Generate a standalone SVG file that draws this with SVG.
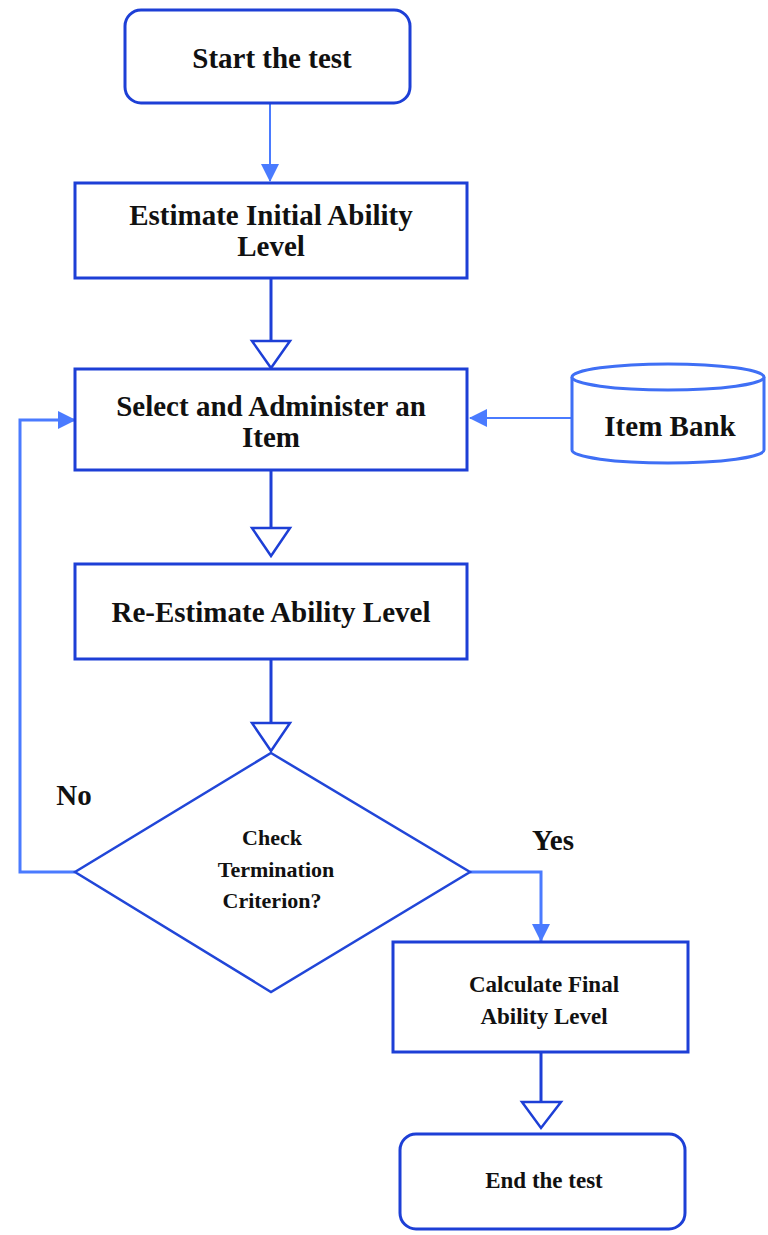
<svg xmlns="http://www.w3.org/2000/svg" width="768" height="1235" viewBox="0 0 768 1235">
<style>
.box{fill:#fff;stroke:#1d3fd6;stroke-width:3}
.dia{fill:#fff;stroke:#2146d8;stroke-width:2.5}
.t{font-family:"Liberation Serif","Times New Roman",serif;font-weight:bold;fill:#111;text-anchor:middle}
.big{font-size:29px}
.sm{font-size:22px}
.md{font-size:23px}
.dark{fill:none;stroke:#1d3fd6;stroke-width:3}
.light{fill:none;stroke:#4a7bff;marker-end:url(#fa)}
.hollow{fill:#fff;stroke:#1d3fd6;stroke-width:2.5;stroke-linejoin:miter}
</style>
<defs>
<marker id="fa" viewBox="0 0 18 18" refX="17" refY="9" markerWidth="18" markerHeight="18" markerUnits="userSpaceOnUse" orient="auto">
<path d="M0,0 L18,9 L0,18 Z" fill="#4a7bff"/>
</marker>
</defs>
<rect width="768" height="1235" fill="#fff"/>
<g id="connectors">
<line class="light" x1="270" y1="104" x2="270" y2="181" stroke-width="2"/>
<line class="dark" x1="271" y1="278" x2="271" y2="341"/>
<path class="hollow" d="M252,341 L290,341 L271,368 Z"/>
<line class="dark" x1="271" y1="470" x2="271" y2="528"/>
<path class="hollow" d="M252,528 L290,528 L271,556 Z"/>
<line class="dark" x1="271" y1="660" x2="271" y2="723"/>
<path class="hollow" d="M252,723 L290,723 L271,751 Z"/>
<line class="light" x1="571" y1="418" x2="470" y2="418" stroke-width="2"/>
<path class="light" d="M75,872 L20,872 L20,420 L75,420" stroke-width="3"/>
<path class="light" d="M470,872 L541,872 L541,941" stroke-width="3"/>
<line class="dark" x1="541" y1="1052" x2="541" y2="1102"/>
<path class="hollow" d="M522,1102 L561,1102 L541,1128 Z"/>
</g>
<g id="start">
<rect class="box" x="125" y="10" width="285" height="93" rx="16"/>
<text class="t big" x="272" y="68">Start the test</text>
</g>
<g id="estimate">
<rect class="box" x="75" y="183" width="392" height="95"/>
<text class="t big" x="271" y="225">Estimate Initial Ability</text>
<text class="t big" x="271" y="256">Level</text>
</g>
<g id="select">
<rect class="box" x="75" y="369" width="392" height="101"/>
<text class="t big" x="271" y="416">Select and Administer an</text>
<text class="t big" x="271" y="447">Item</text>
</g>
<g id="itembank">
<path d="M572,377 L572,450 A96,13 0 0 0 764,450 L764,377" fill="#fff" stroke="#3f6ff5" stroke-width="3"/>
<ellipse cx="668" cy="377" rx="96" ry="13" fill="#fff" stroke="#3f6ff5" stroke-width="3"/>
<text class="t big" x="670" y="436">Item Bank</text>
</g>
<g id="reestimate">
<rect class="box" x="75" y="564" width="392" height="95"/>
<text class="t big" x="271" y="622">Re-Estimate Ability Level</text>
</g>
<g id="decision">
<path class="dia" d="M271,753 L470,872 L271,992 L75,872 Z"/>
<text class="t sm" x="272" y="845">Check</text>
<text class="t sm" x="276" y="877">Termination</text>
<text class="t sm" x="272" y="908">Criterion?</text>
</g>
<g id="labels">
<text class="t big" x="74" y="805">No</text>
<text class="t big" x="553" y="850">Yes</text>
</g>
<g id="calculate">
<rect class="box" x="393" y="942" width="295" height="110"/>
<text class="t md" x="544" y="992">Calculate Final</text>
<text class="t md" x="544" y="1024">Ability Level</text>
</g>
<g id="end">
<rect class="box" x="400" y="1134" width="285" height="95" rx="16"/>
<text class="t md" x="544" y="1188">End the test</text>
</g>
</svg>
